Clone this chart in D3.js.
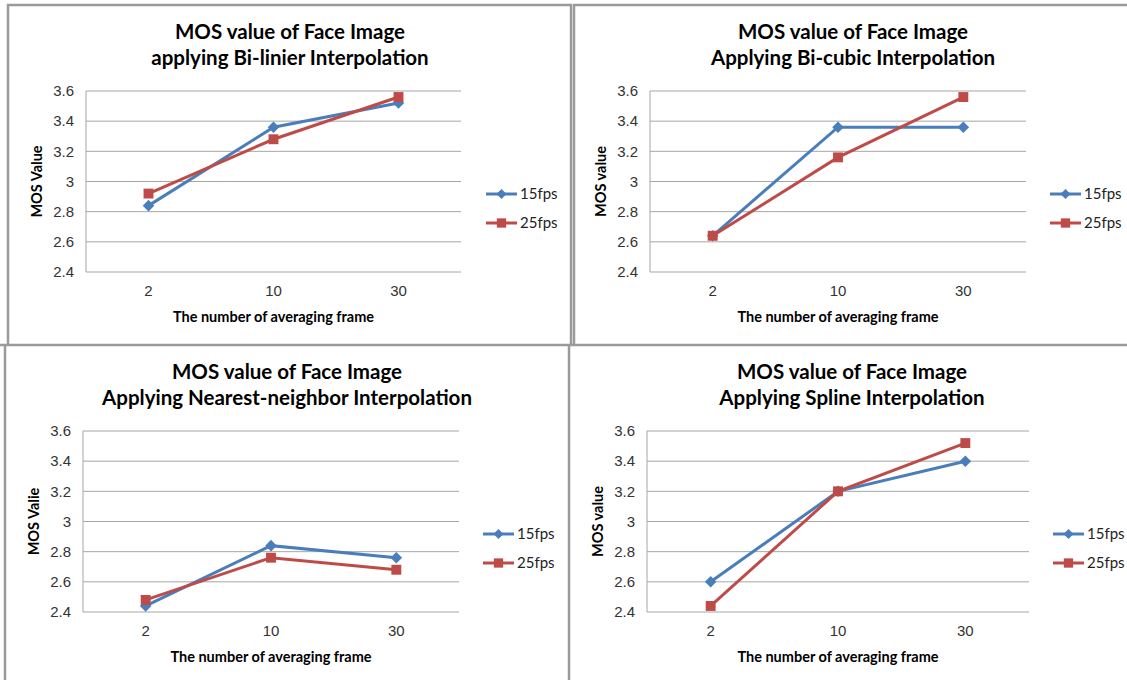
<!DOCTYPE html>
<html>
<head>
<meta charset="utf-8"/>
<script src="https://cdn.jsdelivr.net/npm/d3@7"></script>
<style>
html, body { margin: 0; padding: 0; background: #fff; }
svg { font-family: Lato, "Open Sans", sans-serif; }
.title { font-weight: bold; font-size: 20.5px; fill: #000; }
.tick text { font-size: 15px; fill: #333; }
.axis-title { font-weight: bold; font-size: 14.5px; fill: #000; }
.legend text { font-size: 15px; fill: #222; }
.grid line { stroke: #a6a6a6; stroke-width: 1; }
.frame { stroke: #9a9a9a; stroke-width: 2.5; fill: none; }
</style>
</head>
<body>
<svg id="chart" width="1127" height="680"></svg>
<script>
// categories on x axis (averaging frames)
var frames = ["2", "10", "30"];
var seriesNames = ["15fps", "25fps"];
var yTicks = [2.4, 2.6, 2.8, 3.0, 3.2, 3.4, 3.6];

// MOS values
var bilinear15 = [2.84, 3.36, 3.52];
var bilinear25 = [2.92, 3.28, 3.56];
var bicubic15 = [2.64, 3.36, 3.36];
var bicubic25 = [2.64, 3.16, 3.56];
var nearest15 = [2.44, 2.84, 2.76];
var nearest25 = [2.48, 2.76, 2.68];
var spline15 = [2.60, 3.20, 3.40];
var spline25 = [2.44, 3.20, 3.52];

var titles1 = ["MOS value of Face Image", "MOS value of Face Image", "MOS value of Face Image", "MOS value of Face Image"];
var titles2 = ["applying Bi-linier Interpolation", "Applying Bi-cubic Interpolation",
               "Applying Nearest-neighbor Interpolation", "Applying Spline Interpolation"];
var yTitles = ["MOS Value", "MOS value", "MOS Valie", "MOS value"];
var xTitle = "The number of averaging frame";

var colors = ["#4a7ebb", "#be4b48"];

// panel layout (plot area boxes and panel centres)
var panels = [
  {data: [bilinear15, bilinear25], cx: 290, top: 91, left: 86, right: 461, legX: 486},
  {data: [bicubic15, bicubic25],   cx: 853, top: 91, left: 650, right: 1026, legX: 1050},
  {data: [nearest15, nearest25],   cx: 287, top: 431, left: 83, right: 459, legX: 483},
  {data: [spline15, spline25],     cx: 852, top: 431, left: 647, right: 1029, legX: 1053}
];

var svg = d3.select("#chart");

// frames round the four screenshots
var fr = svg.append("g");
fr.append("path").attr("class", "frame").attr("d", "M8,345 V5 H571 V345");
fr.append("path").attr("class", "frame").attr("d", "M574,345 V5 H1127");
fr.append("path").attr("class", "frame").attr("d", "M0,345 H1127");
fr.append("path").attr("class", "frame").attr("d", "M5,680 V345");
fr.append("path").attr("class", "frame").attr("d", "M569,680 V345");

panels.forEach(function(p, i) {
  var h = 181;
  var g = svg.append("g");

  var x = d3.scaleBand().domain(frames).range([p.left, p.right]);
  var y = d3.scaleLinear().domain([2.4, 3.6]).range([p.top + h, p.top]);

  // titles
  g.append("text").attr("class", "title").attr("x", p.cx).attr("y", p.top - 52)
    .attr("text-anchor", "middle").text(titles1[i]);
  g.append("text").attr("class", "title").attr("x", p.cx).attr("y", p.top - 26)
    .attr("text-anchor", "middle").text(titles2[i]);

  // gridlines
  g.append("g").attr("class", "grid")
    .selectAll("line").data(yTicks).enter().append("line")
    .attr("x1", p.left).attr("x2", p.right)
    .attr("y1", function(d) { return y(d); }).attr("y2", function(d) { return y(d); });
  g.append("line").attr("x1", p.left).attr("x2", p.left)
    .attr("y1", p.top).attr("y2", p.top + h).attr("stroke", "#a6a6a6");

  // y axis labels
  var ya = g.append("g").attr("transform", "translate(" + p.left + ",0)")
    .call(d3.axisLeft(y).tickValues(yTicks).tickSize(0).tickPadding(12)
      .tickFormat(function(d) { return d === 3 ? "3" : d3.format(".1f")(d); }));
  ya.select(".domain").remove();

  // x axis labels
  var xa = g.append("g").attr("transform", "translate(0," + (p.top + h) + ")")
    .call(d3.axisBottom(x).tickSize(0).tickPadding(13));
  xa.select(".domain").remove();

  g.append("text").attr("class", "axis-title")
    .attr("x", (p.left + p.right) / 2).attr("y", p.top + h + 50)
    .attr("text-anchor", "middle").text(xTitle);
  g.append("text").attr("class", "axis-title")
    .attr("transform", "translate(" + (p.left - 44) + "," + (p.top + h / 2) + ") rotate(-90)")
    .attr("text-anchor", "middle").text(yTitles[i]);

  var line = d3.line()
    .x(function(d, j) { return x(frames[j]) + x.bandwidth() / 2; })
    .y(function(d) { return y(d); });

  p.data.forEach(function(vals, s) {
    g.append("path").datum(vals).attr("d", line)
      .attr("fill", "none").attr("stroke", colors[s]).attr("stroke-width", 3);
  });
  p.data.forEach(function(vals, s) {
    var sym = d3.symbol().type(s === 0 ? d3.symbolDiamond2 : d3.symbolSquare2).size(s === 0 ? 85 : 125);
    g.selectAll(null).data(vals).enter().append("path")
      .attr("transform", function(d, j) {
        return "translate(" + (x(frames[j]) + x.bandwidth() / 2) + "," + y(d) + ")";
      })
      .attr("d", sym).attr("fill", colors[s]).attr("stroke", "none");
  });

  // legend
  var leg = g.append("g").attr("class", "legend");
  seriesNames.forEach(function(name, s) {
    var ly = p.top + 103 + s * 29;
    leg.append("line").attr("x1", p.legX).attr("x2", p.legX + 31)
      .attr("y1", ly).attr("y2", ly).attr("stroke", colors[s]).attr("stroke-width", 3);
    var sym = d3.symbol().type(s === 0 ? d3.symbolDiamond2 : d3.symbolSquare2).size(s === 0 ? 65 : 110);
    leg.append("path").attr("transform", "translate(" + (p.legX + 15.5) + "," + ly + ")")
      .attr("d", sym).attr("fill", colors[s]);
    leg.append("text").attr("x", p.legX + 34).attr("y", ly + 5).text(name);
  });
});
</script>
</body>
</html>
